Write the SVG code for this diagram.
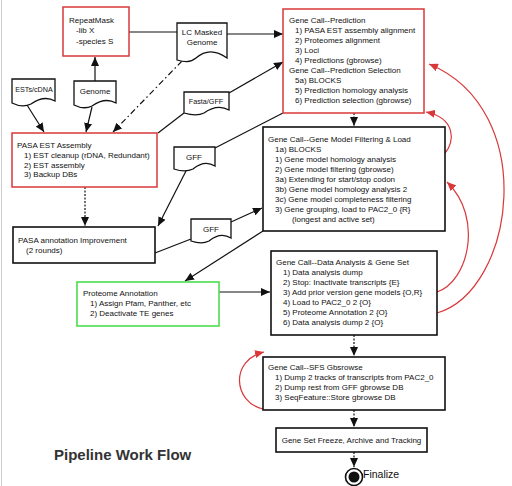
<svg xmlns="http://www.w3.org/2000/svg" width="512" height="486" viewBox="0 0 512 486">
<style>
text{font-family:"Liberation Sans",Arial,sans-serif;font-size:8px;fill:#111}
.c{text-anchor:middle}
.s{font-size:7.2px}
.box{fill:#fff;stroke:#111;stroke-width:1.6}
.red{fill:#fff;stroke:#d9383a;stroke-width:1.5}
.grn{fill:#fff;stroke:#4ddc4d;stroke-width:1.6}
.doc{fill:#fff;stroke:#111;stroke-width:1.3}
.ln{fill:none;stroke:#111;stroke-width:1.2}
.ar{marker-end:url(#ah)}
.dot{stroke-dasharray:2,1.5}
.dd{stroke-dasharray:6,3,1.5,3}
.rc{fill:none;stroke:#d9383a;stroke-width:1.2;marker-end:url(#rh)}
</style>
<defs>
<marker id="ah" markerUnits="userSpaceOnUse" markerWidth="9" markerHeight="8" refX="9" refY="4" orient="auto"><path d="M0,0 L9,4 L0,8 z" fill="#111"/></marker>
<marker id="rh" markerUnits="userSpaceOnUse" markerWidth="9" markerHeight="8" refX="9" refY="4" orient="auto"><path d="M0,0 L9,4 L0,8 z" fill="#d9383a"/></marker>
</defs>
<rect width="512" height="486" fill="#fff"/>
<line x1="1.5" y1="0" x2="1.5" y2="486" stroke="#d0d0d0" stroke-width="1"/>

<g id="connectors">
<line class="ln" x1="129" y1="32" x2="177" y2="32"/>
<line class="ln ar" x1="227" y1="34" x2="283" y2="34"/>
<line class="ln ar" x1="95" y1="81" x2="95" y2="57"/>
<line class="ln ar" x1="27" y1="105" x2="44" y2="132"/>
<line class="ln ar" x1="92" y1="107" x2="86" y2="132"/>
<line class="ln ar dd" x1="182" y1="61" x2="113" y2="132"/>
<line class="ln" x1="158" y1="133" x2="184" y2="113"/>
<line class="ln ar" x1="229" y1="93" x2="283" y2="62"/>
<line class="ln" x1="215" y1="148" x2="283" y2="113"/>
<line class="ln ar" x1="187" y1="169" x2="158" y2="226"/>
<line class="ln ar dot" x1="85" y1="187" x2="85" y2="226"/>
<line class="ln" x1="155" y1="253" x2="191" y2="239"/>
<line class="ln ar" x1="231" y1="222" x2="262" y2="208"/>
<line class="ln ar" x1="263" y1="231" x2="185" y2="281"/>
<line class="ln ar dot" x1="354" y1="113" x2="354" y2="126"/>
<line class="ln ar" x1="219" y1="292" x2="270" y2="292"/>
<line class="ln ar dot" x1="354" y1="335" x2="354" y2="356"/>
<line class="ln ar dot" x1="354" y1="410" x2="354" y2="427"/>
<line class="ln ar dot" x1="354" y1="452" x2="354" y2="467"/>
<path class="rc" d="M445,153 C455,142 456,118 426,112"/>
<path class="rc" d="M437,292 C468,282 484,218 447,182"/>
<path class="rc" d="M437,313 C515,290 540,110 429,64"/>
<path class="rc" d="M263,409 C233,402 230,360 264,352"/>
</g>

<g id="repeatmask">
<rect class="red" x="63" y="7" width="66" height="49"/>
<text x="69" y="23">RepeatMask</text>
<text x="76" y="33">-lib X</text>
<text x="76" y="44">-species S</text>
</g>

<g id="lcmasked">
<path class="doc" d="M177,23 H227 V58 C216,50 205,50 196,58 C190,63 184,62 177,60 Z"/>
<text class="c" x="202" y="35">LC Masked</text>
<text class="c" x="202" y="45">Genome</text>
</g>

<g id="ests">
<path class="doc" d="M12,79 H55 V101 C46,96 38,99 31,104 C25,107 18,106 12,103 Z"/>
<text class="c s" x="34" y="92">ESTs/cDNA</text>
</g>

<g id="genome">
<path class="doc" d="M74,81 H116 V103 C107,98 99,101 92,106 C86,109 80,108 74,105 Z"/>
<text class="c" x="95" y="94">Genome</text>
</g>

<g id="fastagff">
<path class="doc" d="M184,92 H229 V110 C220,105 211,108 204,113 C198,116 191,115 184,113 Z"/>
<text class="c s" x="206" y="104">Fasta/GFF</text>
</g>

<g id="gff1">
<path class="doc" d="M174,147 H215 V166 C207,161 199,164 193,169 C187,172 180,171 174,169 Z"/>
<text class="c" x="194" y="160">GFF</text>
</g>

<g id="gff2">
<path class="doc" d="M191,219 H231 V238 C223,233 215,236 209,241 C203,244 197,243 191,241 Z"/>
<text class="c" x="211" y="232">GFF</text>
</g>

<g id="prediction">
<rect class="red" x="283" y="9" width="141" height="104"/>
<text x="289" y="23">Gene Call--Prediction</text>
<text x="295" y="33">1) PASA EST assembly alignment</text>
<text x="295" y="43">2) Proteomes alignment</text>
<text x="295" y="53">3) Loci</text>
<text x="295" y="63">4) Predictions (gbrowse)</text>
<text x="289" y="73">Gene Call--Prediction Selection</text>
<text x="295" y="83">5a) BLOCKS</text>
<text x="295" y="93">5) Prediction homology analysis</text>
<text x="295" y="103">6) Prediction selection (gbrowse)</text>
</g>

<g id="pasaest">
<rect class="red" x="12" y="133" width="145" height="54"/>
<text x="17" y="148">PASA EST Assembly</text>
<text x="24" y="158">1) EST cleanup (rDNA, Redundant)</text>
<text x="24" y="167.5">2) EST assembly</text>
<text x="24" y="177">3) Backup DBs</text>
</g>

<g id="genemodel">
<rect class="box" x="263" y="127" width="182" height="104"/>
<text x="268" y="142">Gene Call--Gene Model Filtering &amp; Load</text>
<text x="275" y="152">1a) BLOCKS</text>
<text x="275" y="162">1) Gene model homology analysis</text>
<text x="275" y="172">2) Gene model filtering (gbrowse)</text>
<text x="275" y="182">3a) Extending for start/stop codon</text>
<text x="275" y="192">3b) Gene model homology analysis 2</text>
<text x="275" y="202">3c) Gene model completeness filtering</text>
<text x="275" y="212">3) Gene grouping, load to PAC2_0 {R}</text>
<text x="292" y="222">(longest and active set)</text>
</g>

<g id="pasaannot">
<rect class="box" x="13" y="227" width="142" height="36"/>
<text x="18" y="243">PASA annotation Improvement</text>
<text x="26" y="253">(2 rounds)</text>
</g>

<g id="proteome">
<rect class="grn" x="77" y="282" width="142" height="44"/>
<text x="83" y="296">Proteome Annotation</text>
<text x="90" y="306">1) Assign Pfam, Panther, etc</text>
<text x="90" y="316">2) Deactivate TE genes</text>
</g>

<g id="geneset">
<rect class="box" x="271" y="251" width="166" height="84"/>
<text x="276" y="265">Gene Call--Data Analysis &amp; Gene Set</text>
<text x="283" y="275">1) Data analysis dump</text>
<text x="283" y="285">2) Stop: Inactivate transcripts {E}</text>
<text x="283" y="295">3) Add prior version gene models {O,R}</text>
<text x="283" y="305">4) Load to PAC2_0 2 {O}</text>
<text x="283" y="315">5) Proteome Annotation 2 {O}</text>
<text x="283" y="325">6) Data analysis dump 2 {O}</text>
</g>

<g id="sfs">
<rect class="box" x="263" y="357" width="182" height="53"/>
<text x="268" y="370">Gene Call--SFS Gbsrowse</text>
<text x="275" y="380">1) Dump 2 tracks of transcripts from PAC2_0</text>
<text x="275" y="390">2) Dump rest from GFF gbrowse DB</text>
<text x="275" y="400">3) SeqFeature::Store gbrowse DB</text>
</g>

<g id="freeze">
<rect class="box" x="276" y="428" width="151" height="24"/>
<text class="c" x="351.5" y="443">Gene Set Freeze, Archive and Tracking</text>
</g>

<g id="finalize">
<circle cx="354" cy="477" r="8.5" fill="#fff" stroke="#111" stroke-width="1.6"/>
<circle cx="354" cy="477" r="5.5" fill="#111"/>
<text x="363" y="478" style="font-size:10.5px">Finalize</text>
</g>

<text x="54" y="460" style="font-size:15px;font-weight:bold;fill:#333">Pipeline Work Flow</text>
</svg>
